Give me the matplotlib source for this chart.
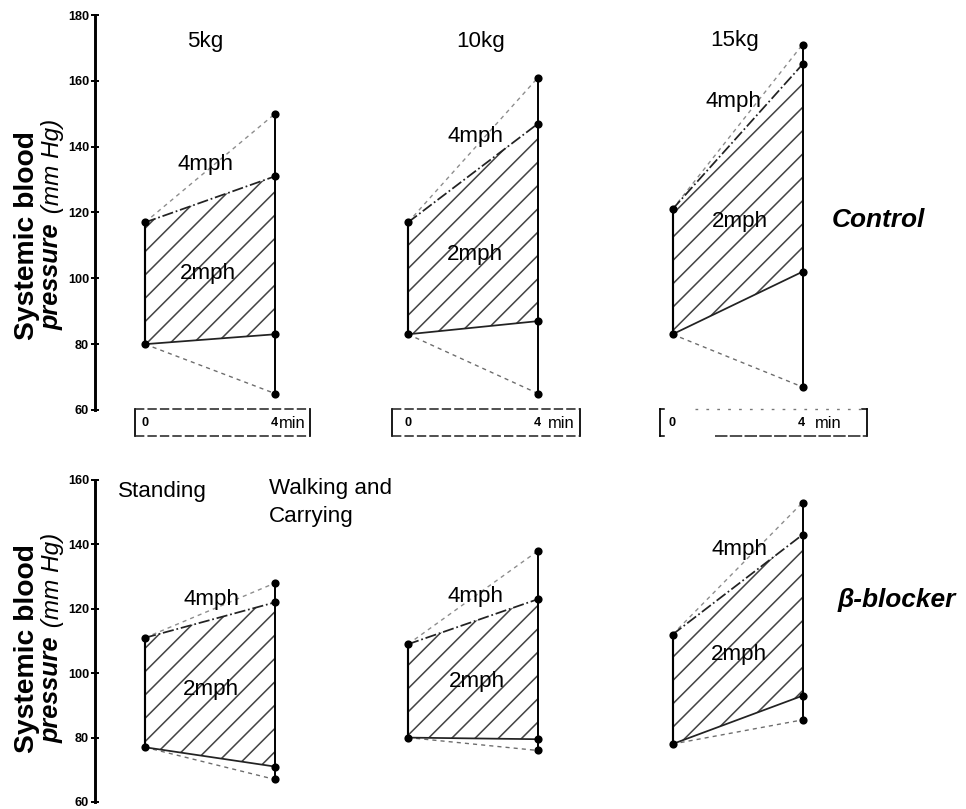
import matplotlib
matplotlib.use('Agg')
import matplotlib.pyplot as plt
from matplotlib.patches import Polygon

plt.rcParams['font.family'] = ['Liberation Sans', 'DejaVu Sans']
plt.rcParams['hatch.linewidth'] = 0.8

# ---------------- data (mm Hg) ----------------
loads = ['5kg', '10kg', '15kg']
conditions = ['Control', 'β-blocker']
times = [0, 4]          # min: standing (0) and after 4 min walking/carrying
time_labels = ['0', '4', 'min']
ticks_ctrl = [60, 80, 100, 120, 140, 160, 180]
ticks_bb = [60, 80, 100, 120, 140, 160]

ctrl_stand_sys = [117, 117, 121]
ctrl_stand_dia = [80, 83, 83]
ctrl_2mph_sys = [131, 147, 165]
ctrl_2mph_dia = [83, 87, 102]
ctrl_4mph_sys = [150, 161, 171]
ctrl_4mph_dia = [65, 65, 67]

bb_stand_sys = [111, 109, 112]
bb_stand_dia = [77, 80, 78]
bb_2mph_sys = [122, 123, 143]
bb_2mph_dia = [71, 79.5, 93]
bb_4mph_sys = [128, 138, 153]
bb_4mph_dia = [67, 76, 85.5]

# ---------------- layout ----------------
W, H, DPI = 966, 809, 140
fig = plt.figure(figsize=(W / DPI, H / DPI), dpi=DPI)
fig.patch.set_facecolor('white')

PX_MIN = 32.5
T0_PX = 145
panel_px = [145, 408, 672.5]
offsets = [(p - T0_PX) / PX_MIN for p in panel_px]
X0_PX = 95


def make_axes(py_top, py_bot, vtop, vbot, ax_top_px, ax_bot_px, ticks):
    s = (py_bot - py_top) / (vtop - vbot)
    ytop = vtop + (py_top - ax_top_px) / s
    ybot = vbot - (ax_bot_px - py_bot) / s
    ax = fig.add_axes([X0_PX / W, 1 - ax_bot_px / H,
                       (W - X0_PX) / W, (ax_bot_px - ax_top_px) / H])
    ax.set_xlim((X0_PX - T0_PX) / PX_MIN, (W - T0_PX) / PX_MIN)
    ax.set_ylim(ybot, ytop)
    ax.patch.set_visible(False)
    for sp in ['top', 'right', 'bottom']:
        ax.spines[sp].set_visible(False)
    ax.spines['left'].set_bounds(vbot, vtop)
    ax.spines['left'].set_linewidth(1.5)
    ax.set_xticks([])
    ax.set_yticks(ticks)
    ax.tick_params(axis='y', direction='inout', length=4, width=1.0,
                   labelsize=6.5, pad=1)
    for lbl in ax.get_yticklabels():
        lbl.set_fontweight('bold')
    return ax


def draw_panel(ax, off, ss, sd, s2, d2, s4, d4):
    t0, t1 = off + times[0], off + times[1]
    poly = Polygon([(t0, ss), (t1, s2), (t1, d2), (t0, sd)], closed=True,
                   facecolor='none', edgecolor='#444444', hatch='//', lw=0)
    ax.add_patch(poly)
    ax.plot([t0, t1], [ss, s4], ls=(0, (3, 3)), color='#8c8c8c', lw=0.7)
    ax.plot([t0, t1], [sd, d4], ls=(0, (3, 3)), color='#6c6c6c', lw=0.7)
    ax.plot([t0, t1], [ss, s2], ls='-.', color='#222222', lw=0.9)
    ax.plot([t0, t1], [sd, d2], ls='-', color='#222222', lw=0.9)
    ax.plot([t0, t0], [sd, ss], color='k', lw=1.1)
    ax.plot([t1, t1], [d4, s4], color='k', lw=1.0)
    ax.plot([t0, t0], [ss, sd], 'o', ms=3.2, color='k')
    ax.plot([t1] * 4, [s4, s2, d2, d4], 'o', ms=3.2, color='k')


ax_top = make_axes(15, 410, 180, 60, 5, 450, ticks_ctrl)
ax_bot = make_axes(480, 802, 160, 60, 470, 809, ticks_bb)

for i in range(3):
    draw_panel(ax_top, offsets[i], ctrl_stand_sys[i], ctrl_stand_dia[i],
               ctrl_2mph_sys[i], ctrl_2mph_dia[i], ctrl_4mph_sys[i], ctrl_4mph_dia[i])
    draw_panel(ax_bot, offsets[i], bb_stand_sys[i], bb_stand_dia[i],
               bb_2mph_sys[i], bb_2mph_dia[i], bb_4mph_sys[i], bb_4mph_dia[i])

# time boxes under the control panels
box_lr = [(-0.31, 5.08), (-0.49, 5.3), (-0.40, 5.97)]
min_dx = [4.12, 4.3, 4.37]
by0, by1, bymid = 52.1, 60.3, 56.0
for i, off in enumerate(offsets):
    l, r = off + box_lr[i][0], off + box_lr[i][1]
    ax_top.plot([l, l], [by0, by1], color='k', lw=0.9)
    ax_top.plot([r, r], [by0, by1], color='k', lw=0.9)
    if i < 2:
        ax_top.plot([l, r], [by1, by1], color='#222222', lw=0.8, ls=(0, (6, 2)))
        ax_top.plot([l, r], [by0, by0], color='#222222', lw=0.8, ls=(0, (6, 2)))
    else:
        ax_top.plot([l, l + 0.15], [by1, by1], color='k', lw=0.8)
        ax_top.plot([r - 0.15, r], [by1, by1], color='k', lw=0.8)
        ax_top.plot([l, l + 0.15], [by0, by0], color='k', lw=0.8)
        ax_top.plot([l + 1.1, r], [by1, by1], color='#777777', lw=0.7, ls=(0, (2, 6)))
        ax_top.plot([l + 1.7, r], [by0, by0], color='#222222', lw=0.8, ls=(0, (8, 1.5)))
    ax_top.text(off + times[0], bymid, time_labels[0], ha='center', va='center',
                fontsize=6.5, fontweight='bold')
    ax_top.text(off + 3.97, bymid, time_labels[1], ha='center', va='center',
                fontsize=6.5, fontweight='bold')
    ax_top.text(off + min_dx[i], bymid, time_labels[2], ha='left', va='center',
                fontsize=8.5)


def ftext(px, py, s, **kw):
    return fig.text(px / W, 1 - py / H, s, **kw)


# load titles
title_px = [(205, 47), (481, 47), (735, 46)]
for (px, py), s in zip(title_px, loads):
    ftext(px, py, s, ha='center', va='baseline', fontsize=11.5)

# speed labels
lab4_top = [(206, 170), (476, 142), (733, 107)]
lab2_top = [(208, 279), (475, 260), (740, 227)]
lab4_bot = [(211, 605), (475, 602), (739, 555)]
lab2_bot = [(211, 695), (477, 687), (739, 660)]
for (px, py) in lab4_top + lab4_bot:
    ftext(px, py, '4mph', ha='center', va='baseline', fontsize=11.5)
for (px, py) in lab2_top + lab2_bot:
    ftext(px, py, '2mph', ha='center', va='baseline', fontsize=11.5)

ftext(878, 227, conditions[0], ha='center', va='baseline', fontsize=13.5,
      fontweight='bold', fontstyle='italic')
ftext(897, 607, conditions[1], ha='center', va='baseline', fontsize=13.5,
      fontweight='bold', fontstyle='italic')

ftext(118, 497, 'Standing', ha='left', va='baseline', fontsize=11.5)
ftext(269, 494, 'Walking and', ha='left', va='baseline', fontsize=11.5)
ftext(269, 522, 'Carrying', ha='left', va='baseline', fontsize=11.5)

# y labels
fig.canvas.draw()
renderer = fig.canvas.get_renderer()
for (y1, y2) in [(340, 330), (753, 743)]:
    ftext(34, y1, 'Systemic blood', rotation=90, rotation_mode='anchor',
          ha='left', va='baseline', fontsize=14.5, fontweight='bold')
    t = ftext(59, y2, 'pressure', rotation=90, rotation_mode='anchor',
              ha='left', va='baseline', fontsize=13, fontweight='bold',
              fontstyle='italic')
    bb = t.get_window_extent(renderer)
    ftext(59, y2 - bb.height - 3, ' (mm Hg)', rotation=90, rotation_mode='anchor',
          ha='left', va='baseline', fontsize=12.5, fontstyle='italic')

fig.savefig('out.png', dpi=DPI, facecolor='white')
